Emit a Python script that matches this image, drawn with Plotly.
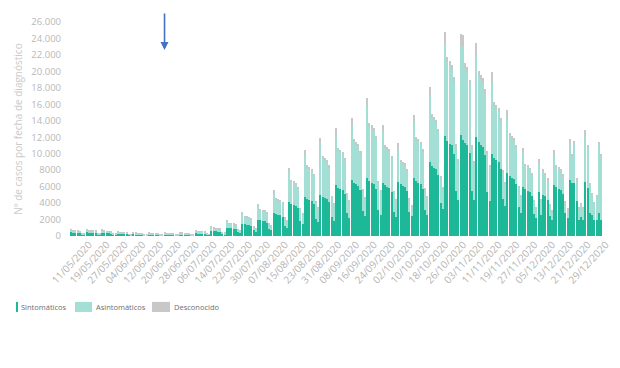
import pandas as pd
import plotly.graph_objects as go

# Daily cases by diagnosis date, 11/05/2020 .. 04/01/2021 (one row = one week, Mon..Sun)
fechas = [d.strftime("%d/%m/%Y") for d in pd.date_range("2020-05-11", "2021-01-04", freq="D")]

sintomaticos = [
    450, 430, 410, 400, 370, 200, 160,
    480, 450, 440, 430, 390, 220, 170,
    420, 400, 390, 380, 340, 190, 150,
    300, 290, 280, 270, 250, 140, 110,
    250, 240, 230, 220, 200, 110, 90,
    200, 190, 190, 180, 170, 90, 70,
    200, 190, 190, 180, 170, 90, 70,
    230, 220, 210, 210, 190, 100, 80,
    350, 330, 320, 320, 290, 160, 130,
    600, 570, 550, 540, 490, 270, 220,
    1000, 950, 920, 900, 820, 450, 360,
    1500, 1430, 1380, 1350, 1230, 680, 540,
    2000, 1900, 1840, 1800, 1640, 900, 720,
    2800, 2660, 2580, 2520, 2300, 1260, 1010,
    4100, 3900, 3770, 3690, 3360, 1850, 1480,
    4700, 4470, 4320, 4230, 3850, 2120, 1690,
    5000, 4750, 4600, 4500, 4100, 2250, 1800,
    6200, 5890, 5700, 5580, 5080, 2790, 2230,
    6800, 6460, 6260, 6120, 5580, 3060, 2450,
    7000, 6650, 6440, 6300, 5740, 3150, 2520,
    6500, 6180, 5980, 5850, 5330, 2930, 2340,
    6600, 6270, 6070, 5940, 5410, 2970, 2380,
    7000, 6650, 6440, 6300, 5740, 3150, 2520,
    9000, 8550, 8280, 8100, 7380, 4050, 3240,
    12200, 11600, 11200, 11000, 10000, 5500, 4400,
    12300, 11700, 11300, 11100, 10100, 5500, 4400,
    12000, 11400, 11000, 10800, 9800, 5400, 4300,
    10000, 9500, 9200, 9000, 8200, 4500, 3600,
    7700, 7300, 7100, 6900, 6300, 3500, 2800,
    6000, 5700, 5500, 5400, 4900, 2700, 2200,
    5300, 2600, 5000, 4800, 4400, 2400, 1900,
    6200, 5900, 5700, 5600, 5100, 2800, 2200,
    6800, 6400, 6500, 4200, 2000, 2300, 1900,
    6600, 5800, 2800, 2500, 1900, 2000, 2800,
    2000,
]

asintomaticos = [
    300, 210, 210, 200, 190, 110, 90,
    320, 230, 220, 210, 200, 110, 100,
    290, 200, 190, 180, 180, 100, 90,
    220, 150, 150, 150, 140, 70, 60,
    170, 120, 120, 120, 110, 60, 50,
    160, 110, 100, 110, 90, 50, 50,
    180, 130, 120, 120, 110, 60, 50,
    190, 140, 140, 130, 120, 70, 60,
    310, 230, 220, 210, 190, 110, 90,
    530, 380, 380, 370, 340, 190, 170,
    790, 560, 550, 540, 510, 290, 250,
    1230, 880, 870, 840, 800, 450, 390,
    1670, 1200, 1190, 1150, 1090, 610, 530,
    2460, 1790, 1770, 1720, 1610, 910, 780,
    3700, 2710, 2670, 2590, 2440, 1370, 1180,
    5120, 3840, 3790, 3680, 3440, 1930, 1660,
    6190, 4720, 4630, 4500, 4210, 2370, 2010,
    6110, 4530, 4470, 4330, 4070, 2290, 1960,
    6640, 4920, 4840, 4700, 4410, 2490, 2130,
    8790, 6720, 6600, 6410, 6000, 3370, 2850,
    6190, 4560, 4500, 4360, 4100, 2310, 1990,
    4020, 2720, 2700, 2610, 2490, 1410, 1240,
    6820, 5040, 4970, 4830, 4520, 2550, 2180,
    8010, 5840, 5770, 5600, 5260, 2970, 2550,
    11100, 9550, 9460, 9180, 8720, 5360, 4620,
    10820, 11240, 9070, 8780, 8330, 5170, 4430,
    10000, 8100, 8010, 7820, 7470, 4590, 4040,
    8710, 6310, 6220, 6030, 5670, 3260, 2800,
    6680, 4820, 4730, 4640, 4370, 2420, 2050,
    4060, 2840, 2840, 2650, 2570, 1470, 1190,
    3540, 1760, 2950, 2670, 2390, 1290, 1110,
    3620, 2440, 2450, 2350, 2170, 1270, 1100,
    4290, 3300, 4750, 2590, 1390, 1580, 1490,
    5530, 4870, 3410, 2540, 2080, 2850, 8260,
    7700,
]

desconocido = [
    50, 20, 20, 20, 20, 10, 10,
    50, 20, 20, 20, 20, 10, 10,
    40, 20, 20, 20, 20, 10, 10,
    30, 10, 10, 10, 10, 10, 10,
    30, 10, 10, 10, 10, 10, 10,
    20, 10, 10, 10, 10, 10, 10,
    20, 10, 10, 10, 10, 10, 10,
    30, 10, 10, 10, 10, 10, 10,
    40, 20, 20, 20, 20, 10, 10,
    70, 30, 30, 30, 30, 20, 10,
    110, 50, 50, 40, 40, 20, 20,
    170, 70, 70, 70, 60, 30, 30,
    230, 100, 90, 90, 80, 50, 40,
    340, 140, 130, 130, 120, 70, 60,
    500, 200, 200, 190, 180, 100, 80,
    630, 260, 250, 240, 230, 130, 100,
    710, 290, 290, 280, 260, 140, 120,
    790, 320, 310, 310, 280, 160, 130,
    860, 350, 340, 330, 310, 170, 140,
    1010, 410, 400, 390, 360, 200, 170,
    810, 330, 320, 320, 290, 160, 130,
    680, 280, 270, 260, 240, 140, 110,
    880, 360, 350, 340, 320, 180, 150,
    1090, 450, 430, 420, 390, 220, 180,
    1500, 650, 640, 620, 580, 340, 280,
    1480, 1460, 630, 620, 570, 330, 270,
    1400, 600, 590, 580, 530, 310, 260,
    1190, 490, 480, 470, 430, 240, 200,
    920, 380, 370, 360, 330, 180, 150,
    640, 260, 260, 250, 230, 130, 110,
    560, 140, 250, 230, 210, 110, 90,
    630, 260, 250, 250, 230, 130, 100,
    710, 300, 350, 210, 110, 120, 110,
    770, 330, 190, 160, 120, 150, 340,
    300,
]

series_names = ["Sintomáticos", "Asintomáticos", "Desconocido"]
series_colors = ["#1DB898", "#A4DFD5", "#C8C8C8"]

y_tickvals = [0, 2000, 4000, 6000, 8000, 10000, 12000, 14000, 16000, 18000, 20000, 22000, 24000, 26000]
y_ticktext = ["0", "2000", "4000", "6000", "8000", "10.000", "12.000", "14.000", "16.000",
              "18.000", "20.000", "22.000", "24.000", "26.000"]
x_ticks = fechas[:-1:8]

FONT = "Open Sans, Noto Sans, sans-serif"

fig = go.Figure()
for name, vals, col in zip(series_names, [sintomaticos, asintomaticos, desconocido], series_colors):
    fig.add_trace(go.Bar(x=fechas, y=vals, name=name, marker_color=col, marker_line_width=0))

# arrow marking 22/06/2020
fig.add_annotation(x="22/06/2020", y=22600, xref="x", yref="y", text="", showarrow=True,
                   ax=0, ay=-38, arrowhead=2, arrowsize=1, arrowwidth=1.6, arrowcolor="#4472C4")

# compact legend below the chart (swatch + label)
legend_items = [  # (swatch x0, swatch x1, label x) in paper units
    (-0.0972, -0.0935, -0.0916),
    (0.0131, 0.0449, 0.0486),
    (0.1570, 0.1907, 0.1944),
]
for (x0, x1, xt), name, col in zip(legend_items, series_names, series_colors):
    fig.add_shape(type="rect", xref="paper", yref="paper", x0=x0, x1=x1, y0=-0.355, y1=-0.308,
                  fillcolor=col, line_width=0)
    fig.add_annotation(xref="paper", yref="paper", x=xt, y=-0.332, text=name, showarrow=False,
                       xanchor="left", yanchor="middle", font=dict(size=7.5, color="#6e6e6e"))

fig.update_layout(
    width=620, height=368,
    margin=dict(l=68, r=17, t=22, b=132),
    paper_bgcolor="white", plot_bgcolor="white",
    barmode="stack", bargap=0.1,
    font=dict(family=FONT, color="#9a9a9a"),
    showlegend=False,
    xaxis=dict(type="category", range=[-1.35, 238.9], tickmode="array", tickvals=x_ticks,
               ticktext=x_ticks, tickangle=-47, ticklabelshift=18, automargin=False,
               tickfont=dict(size=10, color="#b3b3b3"), showgrid=False, showline=False,
               ticks="", zeroline=False),
    yaxis=dict(range=[0, 26000], tickmode="array", tickvals=y_tickvals, ticktext=y_ticktext,
               tickfont=dict(size=9.5, color="#b8b8b8"), showgrid=False,
               zeroline=False, showline=False, ticks="", automargin=False, ticklabelstandoff=6,
               title=dict(text="Nº de casos por fecha de diagnóstico",
                          font=dict(size=10, color="#cacaca"), standoff=6)),
)

fig.write_html("out.html", config={"displayModeBar": False},
               post_script="document.body.style.margin='0';")
